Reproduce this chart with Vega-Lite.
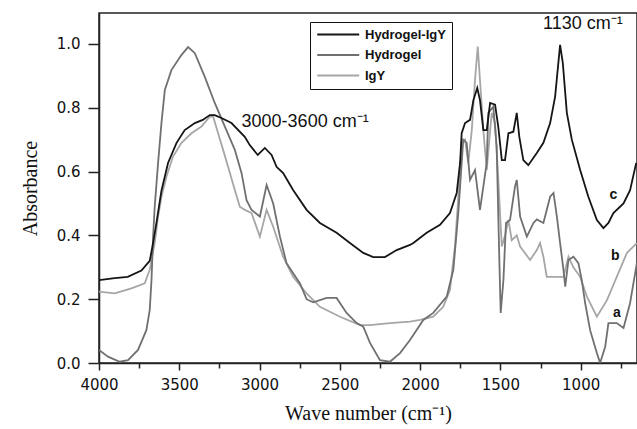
{
  "$schema": "https://vega.github.io/schema/vega-lite/v6.json",
  "width": 538,
  "height": 350,
  "autosize": {"type": "none"},
  "padding": {"left": 99, "top": 13, "right": 0, "bottom": 66},
  "background": "white",
  "config": {
    "view": {"stroke": "#222", "strokeWidth": 1.5},
    "font": "Liberation Sans"
  },
  "datasets": {
    "spectra": [
      {"s": "IgY", "w": 4000, "a": 0.224},
      {"s": "IgY", "w": 3902, "a": 0.218},
      {"s": "IgY", "w": 3798, "a": 0.234},
      {"s": "IgY", "w": 3715, "a": 0.25},
      {"s": "IgY", "w": 3684, "a": 0.292},
      {"s": "IgY", "w": 3653, "a": 0.376},
      {"s": "IgY", "w": 3632, "a": 0.459},
      {"s": "IgY", "w": 3611, "a": 0.521},
      {"s": "IgY", "w": 3580, "a": 0.584},
      {"s": "IgY", "w": 3539, "a": 0.647},
      {"s": "IgY", "w": 3486, "a": 0.69},
      {"s": "IgY", "w": 3424, "a": 0.72},
      {"s": "IgY", "w": 3362, "a": 0.741},
      {"s": "IgY", "w": 3310, "a": 0.772},
      {"s": "IgY", "w": 3289, "a": 0.772},
      {"s": "IgY", "w": 3258, "a": 0.72},
      {"s": "IgY", "w": 3227, "a": 0.668},
      {"s": "IgY", "w": 3196, "a": 0.615},
      {"s": "IgY", "w": 3154, "a": 0.542},
      {"s": "IgY", "w": 3123, "a": 0.49},
      {"s": "IgY", "w": 3092, "a": 0.48},
      {"s": "IgY", "w": 3050, "a": 0.47},
      {"s": "IgY", "w": 2998, "a": 0.396},
      {"s": "IgY", "w": 2956, "a": 0.48},
      {"s": "IgY", "w": 2915, "a": 0.427},
      {"s": "IgY", "w": 2853, "a": 0.333},
      {"s": "IgY", "w": 2791, "a": 0.27},
      {"s": "IgY", "w": 2707, "a": 0.218},
      {"s": "IgY", "w": 2624, "a": 0.176},
      {"s": "IgY", "w": 2499, "a": 0.145},
      {"s": "IgY", "w": 2374, "a": 0.119},
      {"s": "IgY", "w": 2312, "a": 0.119},
      {"s": "IgY", "w": 2188, "a": 0.125},
      {"s": "IgY", "w": 2063, "a": 0.13},
      {"s": "IgY", "w": 2000, "a": 0.135},
      {"s": "IgY", "w": 1918, "a": 0.145},
      {"s": "IgY", "w": 1856, "a": 0.176},
      {"s": "IgY", "w": 1814, "a": 0.229},
      {"s": "IgY", "w": 1783, "a": 0.365},
      {"s": "IgY", "w": 1762, "a": 0.521},
      {"s": "IgY", "w": 1741, "a": 0.69},
      {"s": "IgY", "w": 1720, "a": 0.7},
      {"s": "IgY", "w": 1700, "a": 0.627},
      {"s": "IgY", "w": 1678, "a": 0.73},
      {"s": "IgY", "w": 1658, "a": 0.887},
      {"s": "IgY", "w": 1641, "a": 0.992},
      {"s": "IgY", "w": 1627, "a": 0.887},
      {"s": "IgY", "w": 1606, "a": 0.73},
      {"s": "IgY", "w": 1585, "a": 0.605},
      {"s": "IgY", "w": 1554, "a": 0.784},
      {"s": "IgY", "w": 1533, "a": 0.752},
      {"s": "IgY", "w": 1513, "a": 0.574},
      {"s": "IgY", "w": 1491, "a": 0.365},
      {"s": "IgY", "w": 1471, "a": 0.4},
      {"s": "IgY", "w": 1450, "a": 0.448},
      {"s": "IgY", "w": 1429, "a": 0.385},
      {"s": "IgY", "w": 1398, "a": 0.4},
      {"s": "IgY", "w": 1377, "a": 0.365},
      {"s": "IgY", "w": 1315, "a": 0.323},
      {"s": "IgY", "w": 1273, "a": 0.354},
      {"s": "IgY", "w": 1253, "a": 0.376},
      {"s": "IgY", "w": 1232, "a": 0.333},
      {"s": "IgY", "w": 1211, "a": 0.27},
      {"s": "IgY", "w": 1148, "a": 0.27},
      {"s": "IgY", "w": 1107, "a": 0.27},
      {"s": "IgY", "w": 1076, "a": 0.333},
      {"s": "IgY", "w": 1045, "a": 0.3},
      {"s": "IgY", "w": 1003, "a": 0.27},
      {"s": "IgY", "w": 961, "a": 0.208},
      {"s": "IgY", "w": 899, "a": 0.145},
      {"s": "IgY", "w": 836, "a": 0.197},
      {"s": "IgY", "w": 775, "a": 0.27},
      {"s": "IgY", "w": 712, "a": 0.345},
      {"s": "IgY", "w": 650, "a": 0.376},

      {"s": "Hydrogel", "w": 4000, "a": 0.041},
      {"s": "Hydrogel", "w": 3944, "a": 0.02},
      {"s": "Hydrogel", "w": 3871, "a": 0.004},
      {"s": "Hydrogel", "w": 3819, "a": 0.009},
      {"s": "Hydrogel", "w": 3757, "a": 0.041},
      {"s": "Hydrogel", "w": 3705, "a": 0.103},
      {"s": "Hydrogel", "w": 3684, "a": 0.166},
      {"s": "Hydrogel", "w": 3673, "a": 0.26},
      {"s": "Hydrogel", "w": 3663, "a": 0.396},
      {"s": "Hydrogel", "w": 3653, "a": 0.49},
      {"s": "Hydrogel", "w": 3632, "a": 0.627},
      {"s": "Hydrogel", "w": 3611, "a": 0.752},
      {"s": "Hydrogel", "w": 3590, "a": 0.856},
      {"s": "Hydrogel", "w": 3549, "a": 0.918},
      {"s": "Hydrogel", "w": 3486, "a": 0.966},
      {"s": "Hydrogel", "w": 3445, "a": 0.99},
      {"s": "Hydrogel", "w": 3403, "a": 0.971},
      {"s": "Hydrogel", "w": 3341, "a": 0.897},
      {"s": "Hydrogel", "w": 3279, "a": 0.815},
      {"s": "Hydrogel", "w": 3216, "a": 0.741},
      {"s": "Hydrogel", "w": 3154, "a": 0.668},
      {"s": "Hydrogel", "w": 3112, "a": 0.595},
      {"s": "Hydrogel", "w": 3081, "a": 0.51},
      {"s": "Hydrogel", "w": 3050, "a": 0.48},
      {"s": "Hydrogel", "w": 2998, "a": 0.459},
      {"s": "Hydrogel", "w": 2956, "a": 0.558},
      {"s": "Hydrogel", "w": 2915, "a": 0.5},
      {"s": "Hydrogel", "w": 2873, "a": 0.396},
      {"s": "Hydrogel", "w": 2832, "a": 0.313},
      {"s": "Hydrogel", "w": 2749, "a": 0.25},
      {"s": "Hydrogel", "w": 2707, "a": 0.2},
      {"s": "Hydrogel", "w": 2666, "a": 0.19},
      {"s": "Hydrogel", "w": 2582, "a": 0.204},
      {"s": "Hydrogel", "w": 2520, "a": 0.204},
      {"s": "Hydrogel", "w": 2458, "a": 0.157},
      {"s": "Hydrogel", "w": 2395, "a": 0.125},
      {"s": "Hydrogel", "w": 2354, "a": 0.114},
      {"s": "Hydrogel", "w": 2312, "a": 0.063},
      {"s": "Hydrogel", "w": 2250, "a": 0.009},
      {"s": "Hydrogel", "w": 2188, "a": 0.004},
      {"s": "Hydrogel", "w": 2125, "a": 0.031},
      {"s": "Hydrogel", "w": 2063, "a": 0.072},
      {"s": "Hydrogel", "w": 1980, "a": 0.135},
      {"s": "Hydrogel", "w": 1918, "a": 0.157},
      {"s": "Hydrogel", "w": 1834, "a": 0.208},
      {"s": "Hydrogel", "w": 1793, "a": 0.292},
      {"s": "Hydrogel", "w": 1762, "a": 0.47},
      {"s": "Hydrogel", "w": 1741, "a": 0.627},
      {"s": "Hydrogel", "w": 1731, "a": 0.7},
      {"s": "Hydrogel", "w": 1710, "a": 0.69},
      {"s": "Hydrogel", "w": 1689, "a": 0.574},
      {"s": "Hydrogel", "w": 1658, "a": 0.605},
      {"s": "Hydrogel", "w": 1627, "a": 0.48},
      {"s": "Hydrogel", "w": 1585, "a": 0.627},
      {"s": "Hydrogel", "w": 1575, "a": 0.784},
      {"s": "Hydrogel", "w": 1544, "a": 0.803},
      {"s": "Hydrogel", "w": 1523, "a": 0.678},
      {"s": "Hydrogel", "w": 1506, "a": 0.313},
      {"s": "Hydrogel", "w": 1498, "a": 0.157},
      {"s": "Hydrogel", "w": 1481, "a": 0.26},
      {"s": "Hydrogel", "w": 1465, "a": 0.439},
      {"s": "Hydrogel", "w": 1440, "a": 0.448},
      {"s": "Hydrogel", "w": 1409, "a": 0.553},
      {"s": "Hydrogel", "w": 1398, "a": 0.574},
      {"s": "Hydrogel", "w": 1377, "a": 0.459},
      {"s": "Hydrogel", "w": 1335, "a": 0.396},
      {"s": "Hydrogel", "w": 1294, "a": 0.439},
      {"s": "Hydrogel", "w": 1273, "a": 0.45},
      {"s": "Hydrogel", "w": 1232, "a": 0.439},
      {"s": "Hydrogel", "w": 1190, "a": 0.521},
      {"s": "Hydrogel", "w": 1169, "a": 0.533},
      {"s": "Hydrogel", "w": 1148, "a": 0.459},
      {"s": "Hydrogel", "w": 1128, "a": 0.376},
      {"s": "Hydrogel", "w": 1107, "a": 0.292},
      {"s": "Hydrogel", "w": 1096, "a": 0.239},
      {"s": "Hydrogel", "w": 1076, "a": 0.323},
      {"s": "Hydrogel", "w": 1045, "a": 0.333},
      {"s": "Hydrogel", "w": 1014, "a": 0.313},
      {"s": "Hydrogel", "w": 993, "a": 0.26},
      {"s": "Hydrogel", "w": 972, "a": 0.188},
      {"s": "Hydrogel", "w": 941, "a": 0.103},
      {"s": "Hydrogel", "w": 899, "a": 0.031},
      {"s": "Hydrogel", "w": 879, "a": 0.0},
      {"s": "Hydrogel", "w": 847, "a": 0.051},
      {"s": "Hydrogel", "w": 827, "a": 0.125},
      {"s": "Hydrogel", "w": 775, "a": 0.125},
      {"s": "Hydrogel", "w": 733, "a": 0.11},
      {"s": "Hydrogel", "w": 692, "a": 0.188},
      {"s": "Hydrogel", "w": 650, "a": 0.313},

      {"s": "Hydrogel-IgY", "w": 4000, "a": 0.26},
      {"s": "Hydrogel-IgY", "w": 3902, "a": 0.266},
      {"s": "Hydrogel-IgY", "w": 3821, "a": 0.27},
      {"s": "Hydrogel-IgY", "w": 3736, "a": 0.29},
      {"s": "Hydrogel-IgY", "w": 3684, "a": 0.32},
      {"s": "Hydrogel-IgY", "w": 3663, "a": 0.376},
      {"s": "Hydrogel-IgY", "w": 3642, "a": 0.44},
      {"s": "Hydrogel-IgY", "w": 3611, "a": 0.54},
      {"s": "Hydrogel-IgY", "w": 3570, "a": 0.627},
      {"s": "Hydrogel-IgY", "w": 3517, "a": 0.69},
      {"s": "Hydrogel-IgY", "w": 3466, "a": 0.73},
      {"s": "Hydrogel-IgY", "w": 3403, "a": 0.752},
      {"s": "Hydrogel-IgY", "w": 3354, "a": 0.762},
      {"s": "Hydrogel-IgY", "w": 3310, "a": 0.777},
      {"s": "Hydrogel-IgY", "w": 3279, "a": 0.777},
      {"s": "Hydrogel-IgY", "w": 3237, "a": 0.768},
      {"s": "Hydrogel-IgY", "w": 3175, "a": 0.752},
      {"s": "Hydrogel-IgY", "w": 3092, "a": 0.709},
      {"s": "Hydrogel-IgY", "w": 3061, "a": 0.683},
      {"s": "Hydrogel-IgY", "w": 3011, "a": 0.652},
      {"s": "Hydrogel-IgY", "w": 2967, "a": 0.674},
      {"s": "Hydrogel-IgY", "w": 2925, "a": 0.652},
      {"s": "Hydrogel-IgY", "w": 2894, "a": 0.615},
      {"s": "Hydrogel-IgY", "w": 2853, "a": 0.595},
      {"s": "Hydrogel-IgY", "w": 2791, "a": 0.542},
      {"s": "Hydrogel-IgY", "w": 2707, "a": 0.48},
      {"s": "Hydrogel-IgY", "w": 2624, "a": 0.439},
      {"s": "Hydrogel-IgY", "w": 2520, "a": 0.408},
      {"s": "Hydrogel-IgY", "w": 2437, "a": 0.376},
      {"s": "Hydrogel-IgY", "w": 2354, "a": 0.345},
      {"s": "Hydrogel-IgY", "w": 2292, "a": 0.332},
      {"s": "Hydrogel-IgY", "w": 2219, "a": 0.332},
      {"s": "Hydrogel-IgY", "w": 2146, "a": 0.354},
      {"s": "Hydrogel-IgY", "w": 2063, "a": 0.37},
      {"s": "Hydrogel-IgY", "w": 2042, "a": 0.376},
      {"s": "Hydrogel-IgY", "w": 1959, "a": 0.408},
      {"s": "Hydrogel-IgY", "w": 1876, "a": 0.433},
      {"s": "Hydrogel-IgY", "w": 1814, "a": 0.47},
      {"s": "Hydrogel-IgY", "w": 1772, "a": 0.533},
      {"s": "Hydrogel-IgY", "w": 1751, "a": 0.627},
      {"s": "Hydrogel-IgY", "w": 1741, "a": 0.72},
      {"s": "Hydrogel-IgY", "w": 1720, "a": 0.752},
      {"s": "Hydrogel-IgY", "w": 1689, "a": 0.762},
      {"s": "Hydrogel-IgY", "w": 1668, "a": 0.824},
      {"s": "Hydrogel-IgY", "w": 1644, "a": 0.862},
      {"s": "Hydrogel-IgY", "w": 1627, "a": 0.824},
      {"s": "Hydrogel-IgY", "w": 1606, "a": 0.73},
      {"s": "Hydrogel-IgY", "w": 1585, "a": 0.73},
      {"s": "Hydrogel-IgY", "w": 1564, "a": 0.815},
      {"s": "Hydrogel-IgY", "w": 1533, "a": 0.81},
      {"s": "Hydrogel-IgY", "w": 1513, "a": 0.74},
      {"s": "Hydrogel-IgY", "w": 1491, "a": 0.636},
      {"s": "Hydrogel-IgY", "w": 1471, "a": 0.636},
      {"s": "Hydrogel-IgY", "w": 1450, "a": 0.72},
      {"s": "Hydrogel-IgY", "w": 1419, "a": 0.725},
      {"s": "Hydrogel-IgY", "w": 1398, "a": 0.784},
      {"s": "Hydrogel-IgY", "w": 1382, "a": 0.709},
      {"s": "Hydrogel-IgY", "w": 1357, "a": 0.636},
      {"s": "Hydrogel-IgY", "w": 1326, "a": 0.62},
      {"s": "Hydrogel-IgY", "w": 1273, "a": 0.658},
      {"s": "Hydrogel-IgY", "w": 1232, "a": 0.69},
      {"s": "Hydrogel-IgY", "w": 1190, "a": 0.752},
      {"s": "Hydrogel-IgY", "w": 1159, "a": 0.835},
      {"s": "Hydrogel-IgY", "w": 1139, "a": 0.94},
      {"s": "Hydrogel-IgY", "w": 1128, "a": 0.997},
      {"s": "Hydrogel-IgY", "w": 1111, "a": 0.94},
      {"s": "Hydrogel-IgY", "w": 1086, "a": 0.784},
      {"s": "Hydrogel-IgY", "w": 1055, "a": 0.7},
      {"s": "Hydrogel-IgY", "w": 1003, "a": 0.605},
      {"s": "Hydrogel-IgY", "w": 952, "a": 0.521},
      {"s": "Hydrogel-IgY", "w": 899, "a": 0.448},
      {"s": "Hydrogel-IgY", "w": 858, "a": 0.423},
      {"s": "Hydrogel-IgY", "w": 827, "a": 0.439},
      {"s": "Hydrogel-IgY", "w": 796, "a": 0.47},
      {"s": "Hydrogel-IgY", "w": 733, "a": 0.5},
      {"s": "Hydrogel-IgY", "w": 692, "a": 0.542},
      {"s": "Hydrogel-IgY", "w": 654, "a": 0.627}
    ],
    "notes": [
      {"t": "3000-3600 cm⁻¹", "w": 3112, "a": 0.756},
      {"t": "1130 cm⁻¹", "w": 1234, "a": 1.063}
    ],
    "tags": [
      {"t": "c", "w": 796, "a": 0.527},
      {"t": "b", "w": 785, "a": 0.335},
      {"t": "a", "w": 774, "a": 0.157}
    ]
  },
  "layer": [
    {
      "data": {"name": "spectra"},
      "mark": {"type": "line", "clip": true, "strokeWidth": 1.8, "interpolate": "linear"},
      "encoding": {
        "x": {
          "field": "w", "type": "quantitative",
          "scale": {"domain": [649, 4000], "reverse": true, "nice": false, "zero": false},
          "axis": {
            "title": "Wave number (cm⁻¹)",
            "titleFont": "Liberation Serif", "titleFontSize": 20, "titleFontWeight": "normal", "titleColor": "#111",
            "titlePadding": 11,
            "values": [750, 1000, 1250, 1500, 1750, 2000, 2250, 2500, 2750, 3000, 3250, 3500, 3750, 4000],
            "format": "d",
            "labelExpr": "datum.value % 500 == 0 ? datum.label : ''",
            "labelFont": "DejaVu Sans", "labelFontSize": 15, "labelColor": "#111", "labelPadding": 7,
            "labelFlush": false, "labelOverlap": false,
            "tickSize": {"condition": {"test": "datum.value % 500 == 0", "value": 7}, "value": 5},
            "tickColor": "#222", "tickWidth": 1.5,
            "domainColor": "#222", "domainWidth": 1.5,
            "grid": false
          }
        },
        "y": {
          "field": "a", "type": "quantitative",
          "scale": {"domain": [0, 1.097], "nice": false},
          "axis": {
            "title": "Absorbance",
            "titleFont": "Liberation Serif", "titleFontSize": 20, "titleFontWeight": "normal", "titleColor": "#111",
            "titlePadding": 16,
            "values": [0, 0.1, 0.2, 0.3, 0.4, 0.5, 0.6, 0.7, 0.8, 0.9, 1.0],
            "format": ".1f",
            "labelExpr": "round(datum.value * 10) % 2 == 0 ? datum.label : ''",
            "labelFont": "DejaVu Sans", "labelFontSize": 15, "labelColor": "#111", "labelPadding": 8,
            "labelFlush": false, "labelOverlap": false,
            "tickSize": {"condition": {"test": "round(datum.value * 10) % 2 == 0", "value": 11}, "value": 6},
            "tickColor": "#222", "tickWidth": 1.5,
            "domainColor": "#222", "domainWidth": 1.5,
            "grid": false
          }
        },
        "color": {
          "field": "s", "type": "nominal",
          "scale": {"domain": ["Hydrogel-IgY", "Hydrogel", "IgY"], "range": ["#151515", "#707070", "#a6a6a6"]},
          "legend": {
            "title": null,
            "orient": "none", "legendX": 211, "legendY": 9,
            "symbolType": "M-1,0H7", "symbolSize": 110, "symbolStrokeWidth": 1.8,
            "labelFont": "Liberation Sans", "labelFontSize": 13, "labelFontWeight": "bold", "labelColor": "#111",
            "rowPadding": 6.5, "padding": 6,
            "strokeColor": "#111", "fillColor": "white",
            "labelOffset": 36
          }
        }
      }
    },
    {
      "data": {"name": "notes"},
      "mark": {"type": "text", "align": "left", "baseline": "middle", "fontSize": 18, "font": "Liberation Sans", "color": "#111"},
      "encoding": {
        "x": {"field": "w", "type": "quantitative"},
        "y": {"field": "a", "type": "quantitative"},
        "text": {"field": "t"}
      }
    },
    {
      "data": {"name": "tags"},
      "mark": {"type": "text", "align": "center", "baseline": "middle", "fontSize": 14, "fontWeight": "bold", "font": "Liberation Sans", "color": "#111"},
      "encoding": {
        "x": {"field": "w", "type": "quantitative"},
        "y": {"field": "a", "type": "quantitative"},
        "text": {"field": "t"}
      }
    }
  ]
}
